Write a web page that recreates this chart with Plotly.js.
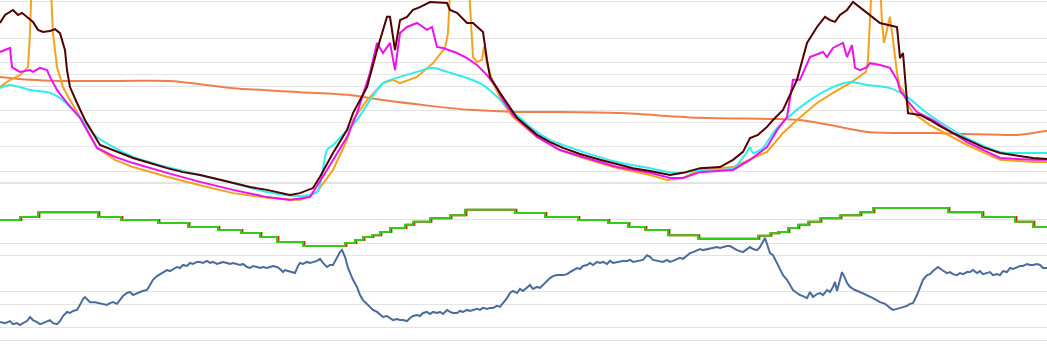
<!DOCTYPE html>
<html>
<head>
<meta charset="utf-8">
<script src="https://cdn.plot.ly/plotly-3.0.1.min.js"></script>
<style>html,body{margin:0;padding:0;background:#fff;}#chart{width:1047px;height:349px;}</style>
</head>
<body>
<div id="chart"></div>
<script>
// ---- data (time in hours) ----
const coralHours = [0,1.5,3,6,8.5,10,11.65,15,17.5,19.15,21.5,23.5,26,28,31,35,38.5,40,41.5,43.35,46.65,50,51,52.35];
const coralValues = [79.3,78.5,78.2,78.2,78.2,77.3,76.2,75.1,74.3,72.9,71.3,70.2,69.6,69.6,69.3,68.0,67.7,67.4,66.0,64.1,63.8,63.3,63.3,64.4];

const orangeHours = [0,0.5,1.0,1.4,1.5,1.6,2.5,2.65,2.85,3.15,3.5,4.0,4.85,5.75,6.65,8.35,10.0,11.65,13.35,15.0,15.85,16.65,17.35,17.65,18.35,19.15,19.65,20.0,20.85,21.65,22.25,22.4,22.55,23.4,23.65,23.85,24.1,24.2,24.35,24.65,25.15,25.65,26.85,28.0,29.15,30.85,32.5,33.35,34.15,35.0,36.65,37.5,38.35,39.15,39.85,40.85,41.65,42.5,43.3,43.4,43.5,43.6,44.0,44.1,44.2,44.35,44.5,44.65,44.85,45.0,45.15,45.35,45.65,46.5,48.35,50.0,51.65,52.35];
const orangeValues = [76.5,78.5,79.8,82.0,91.4,108.8,108.8,91.4,82.0,76.5,72.9,68.2,59.7,56.4,54.4,51.7,49.4,47.2,45.9,45.3,47.5,53.6,61.9,67.4,72.9,77.6,78.5,77.6,79.3,83.1,87.3,91.4,108.8,108.8,84.8,83.4,84.0,87.6,83.1,77.6,72.1,68.2,62.7,59.1,56.9,54.1,52.2,50.8,51.4,53.6,54.4,56.4,58.6,63.8,67.4,72.1,74.9,77.6,80.7,84.0,95.0,106.1,106.1,94.2,88.7,92.3,95.9,89.5,80.4,76.5,75.7,72.1,69.3,66.0,60.5,56.4,55.8,55.8];

const magentaHours = [0,0.5,0.6,0.65,1.0,1.5,1.65,2.0,2.35,2.5,2.85,3.35,4.0,4.85,5.75,6.65,8.35,10.0,11.65,13.35,14.5,15.5,16.35,16.65,17.35,17.85,18.5,18.85,19.15,19.5,19.75,20.0,20.35,20.85,21.35,21.6,21.85,22.15,22.85,23.35,23.85,24.35,24.85,25.15,25.65,26.85,28.0,29.15,30.85,32.5,33.5,34.15,35.0,36.65,37.5,38.35,38.85,39.35,39.65,40.0,40.5,41.15,41.35,41.65,42.15,42.35,42.6,42.75,43.0,43.35,43.5,44.0,44.5,44.85,45.0,45.35,45.85,46.65,48.35,50.0,51.65,52.35];
const magentaValues = [86.2,87.3,82.0,81.8,80.7,81.2,80.7,81.8,81.2,79.3,75.7,72.1,68.0,59.7,57.2,55.5,52.8,50.3,48.1,46.1,45.3,46.1,53.6,56.4,62.7,69.3,80.4,88.7,85.9,88.7,81.2,91.4,93.1,94.2,92.3,93.1,87.6,87.3,85.9,84.5,82.6,79.8,76.2,72.9,68.8,62.7,59.1,57.2,54.4,52.8,51.4,51.4,53.0,53.6,56.4,59.9,64.6,68.2,78.5,78.5,84.8,86.2,84.8,87.3,88.7,84.8,88.1,81.8,81.2,82.0,83.1,82.6,81.8,78.5,75.7,72.9,69.6,67.4,61.3,56.9,56.4,56.4];

const cyanHours = [0,0.5,1.5,2.5,3.0,3.5,4.0,4.85,5.75,6.65,8.35,10.0,11.65,13.35,15.0,15.85,16.35,16.65,17.35,17.85,18.5,19.15,20.0,20.85,21.65,22.35,23.35,24.15,24.85,25.5,26.0,26.5,27.5,29.15,30.85,32.5,33.65,34.15,35.0,36.65,37.35,37.5,37.65,38.15,38.65,39.25,40.5,41.65,42.5,43.35,44.5,45.35,46.35,46.85,48.35,50.0,50.85,51.65,52.35];
const cyanValues = [76.2,77.1,75.7,74.9,73.5,71.0,68.2,62.7,59.7,57.2,54.4,52.2,50.0,47.5,46.4,47.5,59.1,60.5,64.6,67.4,72.9,77.6,79.3,80.7,81.8,80.7,79.0,77.1,73.8,70.2,68.0,65.5,61.9,58.6,55.8,54.1,52.8,52.8,53.6,54.1,58.6,59.9,58.3,59.7,63.8,67.4,72.9,76.5,77.9,77.1,76.2,73.8,69.3,67.4,62.4,58.6,58.3,58.3,58.3];

const maroonHours = [0,0.25,0.65,0.9,1.1,1.5,1.65,1.9,2.15,2.5,2.75,3.0,3.25,3.35,3.5,3.85,4.25,5.0,6.0,6.65,7.5,8.35,9.15,10.0,10.85,11.65,12.5,13.35,14.5,15.0,15.65,16.0,16.65,17.35,17.65,18.35,18.85,19.35,19.5,19.75,20.0,20.35,20.65,21.0,21.5,22.35,22.5,22.85,23.35,23.65,24.15,24.35,24.5,25.0,25.85,26.85,27.5,28.15,29.0,30.0,30.85,31.65,32.5,33.5,34.15,35.0,36.0,36.65,37.15,37.5,37.9,38.35,38.65,39.15,39.85,40.35,40.85,41.25,41.5,41.75,42.0,42.35,42.65,43.0,43.35,44.0,44.85,45.0,45.15,45.4,46.0,46.5,47.0,47.65,48.35,49.15,50.0,50.85,51.65,52.35];
const maroonValues = [94.2,96.4,97.8,96.4,97.0,95.0,94.5,92.3,91.7,92.0,92.5,91.4,86.7,81.2,76.5,72.1,67.4,60.5,58.3,56.9,55.5,54.1,53.0,52.2,51.1,50.0,48.9,48.1,46.7,47.2,48.6,51.7,58.3,64.6,69.3,76.5,86.7,95.9,95.9,86.7,95.0,95.9,97.8,98.6,100.0,99.7,97.8,97.0,94.2,94.2,91.7,84.0,79.3,74.9,68.0,63.3,61.3,59.7,58.0,56.4,55.2,54.1,53.3,52.2,52.8,54.1,54.4,56.4,58.6,62.4,63.3,65.5,67.4,70.2,78.5,88.7,93.1,95.9,95.0,94.5,96.4,97.8,100.0,98.6,97.0,94.2,93.1,84.5,85.9,69.3,68.8,67.4,65.7,63.8,61.9,59.9,58.3,57.5,56.9,56.6];

const greenHours = [0,1.0,1.9,4.9,6.05,7.9,9.4,10.9,12.05,13.0,13.85,15.15,17.25,17.75,18.15,18.6,19.0,19.5,20.25,20.65,21.5,22.5,23.25,25.75,27.25,28.9,30.4,31.4,32.25,33.4,34.9,37.9,38.5,38.9,39.4,39.9,40.4,41.0,42.0,43.0,43.65,47.4,49.1,50.75,51.65,52.35];
const greenValues = [13.9,14.4,15.2,14.4,13.9,13.4,12.75,12.25,11.75,11.1,10.26,9.6,10.1,10.6,11.1,11.4,11.9,12.6,13.1,13.6,14.2,14.7,15.6,15.07,14.4,13.9,13.4,12.75,12.25,11.4,10.8,11.3,11.7,11.9,12.6,13.1,13.6,14.2,14.7,15.2,15.9,15.2,14.4,13.6,12.75,12.75];
const redHours = [0,1.07,1.97,4.97,6.12,7.97,9.47,10.97,12.12,13.07,13.92,15.22,17.32,17.82,18.22,18.67,19.07,19.57,20.32,20.72,21.57,22.57,23.32,25.82,27.32,28.97,30.47,31.47,32.32,33.47,34.97,37.97,38.57,38.97,39.47,39.97,40.47,41.07,42.07,43.07,43.72,47.47,49.17,50.82,51.72,52.35];
const redValues = [13.9,14.4,15.2,14.4,13.9,13.4,12.75,12.25,11.75,11.1,10.26,9.6,10.1,10.6,11.1,11.4,11.9,12.6,13.1,13.6,14.2,14.7,15.6,15.07,14.4,13.9,13.4,12.75,12.25,11.4,10.8,11.3,11.7,11.9,12.6,13.1,13.6,14.2,14.7,15.2,15.9,15.2,14.4,13.6,12.75,12.75];

const blueHours = [0,0.25,0.5,0.65,0.85,1.0,1.15,1.35,1.5,1.65,1.85,2.0,2.15,2.35,2.5,2.65,2.85,3.0,3.15,3.35,3.5,3.65,3.85,4.0,4.15,4.25,4.4,4.5,4.75,5.0,5.15,5.35,5.5,5.65,5.85,6.0,6.15,6.35,6.5,6.65,6.85,7.0,7.15,7.35,7.5,7.65,7.85,8.0,8.15,8.35,8.5,8.65,8.85,9.0,9.15,9.35,9.5,9.65,9.85,10.0,10.15,10.35,10.5,10.65,10.85,11.0,11.15,11.35,11.5,11.65,11.85,12.0,12.15,12.35,12.5,12.65,12.85,13.0,13.15,13.35,13.5,13.65,13.85,14.0,14.15,14.25,14.4,14.6,14.75,14.9,15.0,15.15,15.35,15.5,15.65,15.85,16.0,16.15,16.35,16.5,16.65,16.85,17.0,17.1,17.25,17.4,17.5,17.65,17.85,18.0,18.15,18.35,18.5,18.65,18.85,19.0,19.15,19.35,19.5,19.65,19.85,20.0,20.15,20.35,20.5,20.65,20.85,21.0,21.15,21.35,21.5,21.65,21.85,22.0,22.15,22.35,22.5,22.65,22.85,23.0,23.15,23.35,23.5,23.65,23.85,24.0,24.15,24.35,24.5,24.65,24.85,25.0,25.15,25.35,25.5,25.65,25.85,26.0,26.15,26.35,26.5,26.65,26.85,27.0,27.15,27.35,27.5,27.65,27.85,28.15,28.35,28.5,28.65,28.85,29.0,29.15,29.35,29.5,29.65,29.85,30.0,30.15,30.35,30.5,30.65,30.85,31.0,31.15,31.35,31.5,31.65,31.85,32.0,32.15,32.35,32.5,32.65,32.85,33.0,33.15,33.35,33.5,33.65,33.85,34.0,34.15,34.35,34.5,34.65,34.85,35.0,35.15,35.35,35.5,35.65,35.85,36.0,36.15,36.35,36.5,36.65,36.85,37.0,37.15,37.35,37.5,37.65,37.85,38.0,38.15,38.25,38.35,38.5,38.65,38.85,39.0,39.15,39.35,39.5,39.65,39.85,40.0,40.15,40.35,40.5,40.65,40.85,41.0,41.15,41.35,41.5,41.65,41.75,41.85,42.0,42.1,42.25,42.35,42.5,42.75,43.0,43.35,43.65,44.0,44.25,44.5,44.65,44.85,45.0,45.15,45.35,45.5,45.65,45.85,46.0,46.15,46.35,46.5,46.65,46.9,47.1,47.35,47.5,47.65,47.85,48.0,48.15,48.35,48.5,48.65,48.85,49.0,49.15,49.35,49.5,49.65,49.85,50.0,50.15,50.35,50.5,50.65,50.85,51.0,51.15,51.35,51.5,51.65,51.85,52.0,52.15,52.35];
const blueValues = [5.3,5.0,5.6,4.7,5.0,4.4,5.0,5.6,6.8,5.9,5.3,4.7,5.0,5.6,5.9,5.0,4.7,5.6,7.1,8.3,8.0,8.6,8.9,10.4,12.1,12.7,11.8,11.2,11.2,10.9,10.7,10.4,10.9,11.2,10.7,11.8,13.0,13.9,14.2,13.3,13.9,14.2,14.5,14.8,16.3,17.8,18.9,19.5,20.1,20.7,20.4,21.0,21.6,21.3,22.2,21.9,22.8,22.5,23.1,23.1,22.8,23.4,22.8,23.1,22.5,22.8,23.1,22.8,22.5,22.8,22.5,22.2,22.5,21.6,21.3,21.9,21.6,21.3,21.6,21.3,21.6,21.9,21.6,21.0,20.1,20.7,20.4,20.1,19.8,21.9,22.8,22.5,23.1,22.8,23.1,23.4,24.0,22.8,21.6,22.2,22.2,24.6,26.0,26.6,24.6,21.3,19.8,17.8,15.7,13.3,11.8,10.7,9.8,8.9,8.3,7.4,6.8,7.1,6.5,5.9,6.2,5.9,5.9,5.6,6.5,7.1,7.4,7.1,8.0,8.3,7.7,8.3,8.0,8.3,7.7,8.9,8.3,8.0,8.0,8.6,8.3,8.9,8.6,8.9,9.2,8.9,9.5,9.2,9.5,9.5,10.1,9.8,10.9,12.4,13.9,14.5,13.9,15.1,14.5,15.7,16.3,15.1,15.7,15.4,16.3,17.5,18.3,18.9,19.2,19.2,19.5,20.1,20.7,21.3,21.0,21.9,22.2,22.8,22.2,23.1,22.8,23.1,22.5,23.4,22.8,23.1,23.1,23.4,23.4,23.7,23.1,23.4,23.4,23.7,25.1,24.6,23.7,23.4,23.4,23.1,23.7,23.1,23.4,24.0,24.3,24.0,25.1,25.7,26.0,26.6,26.9,26.6,26.9,27.2,27.2,27.5,27.2,27.5,27.8,27.8,27.2,26.6,26.3,26.0,26.9,27.5,26.9,26.6,27.5,29.3,30.2,28.4,25.7,25.1,22.8,20.7,19.2,17.8,16.3,14.8,13.9,13.3,13.0,12.4,14.2,12.7,13.6,13.9,13.3,14.8,14.2,15.7,17.2,14.5,17.8,20.1,18.3,16.9,15.7,14.8,14.2,13.3,12.4,11.2,10.7,9.5,8.9,9.2,9.5,9.8,10.1,10.7,10.9,13.3,15.7,17.8,19.2,19.5,20.4,21.6,20.7,19.8,20.1,19.5,19.2,19.8,19.5,20.1,20.1,20.7,19.8,20.4,19.5,19.8,20.1,19.2,19.5,19.2,20.4,20.1,21.3,21.0,21.6,21.9,21.9,22.5,22.2,22.2,22.5,22.2,21.3,21.3];

// ---- traces ----
function line(x, y, color, axis, shape) {
  const ln = {color: color, width: 2, shape: shape || 'linear'};
  if (shape === 'spline') ln.smoothing = 0.8;
  return {x: x, y: y, type: 'scatter', mode: 'lines', yaxis: axis, line: ln, hoverinfo: 'skip'};
}
const traces = [
  line(coralHours, coralValues, '#ef7f4a', 'y', 'spline'),
  line(orangeHours, orangeValues, '#f2a31b', 'y'),
  line(cyanHours, cyanValues, '#30ecec', 'y', 'spline'),
  line(magentaHours, magentaValues, '#ee11ee', 'y'),
  line(maroonHours, maroonValues, '#520000', 'y'),
  line(redHours, redValues, '#cc2a00', 'y2', 'hv'),
  line(greenHours, greenValues, '#37c81c', 'y2', 'hv'),
  line(blueHours, blueValues, '#4b6c9b', 'y3')
];

const grid = '#e3e3e3';
const layout = {
  width: 1047, height: 349,
  margin: {l: 0, r: 0, t: 0, b: 0, pad: 0},
  paper_bgcolor: '#ffffff', plot_bgcolor: '#ffffff',
  showlegend: false,
  xaxis: {range: [0, 52.35], showgrid: false, zeroline: false, showticklabels: false, ticks: '', showline: false},
  yaxis: {range: [4.14, 100.55], tick0: 0, dtick: 10, showgrid: true, gridcolor: grid, gridwidth: 1,
          zeroline: false, showticklabels: false, ticks: '', showline: false},
  yaxis2: {range: [-7.45, 50.33], tick0: 0, dtick: 10, overlaying: 'y', showgrid: true, gridcolor: grid, gridwidth: 1,
           zeroline: false, showticklabels: false, ticks: '', showline: false},
  yaxis3: {range: [-2.66, 100.59], tick0: 0, dtick: 25, overlaying: 'y', showgrid: true, gridcolor: grid, gridwidth: 1,
           zeroline: false, showticklabels: false, ticks: '', showline: false}
};
Plotly.newPlot('chart', traces, layout, {displayModeBar: false, staticPlot: true});
</script>
</body>
</html>
